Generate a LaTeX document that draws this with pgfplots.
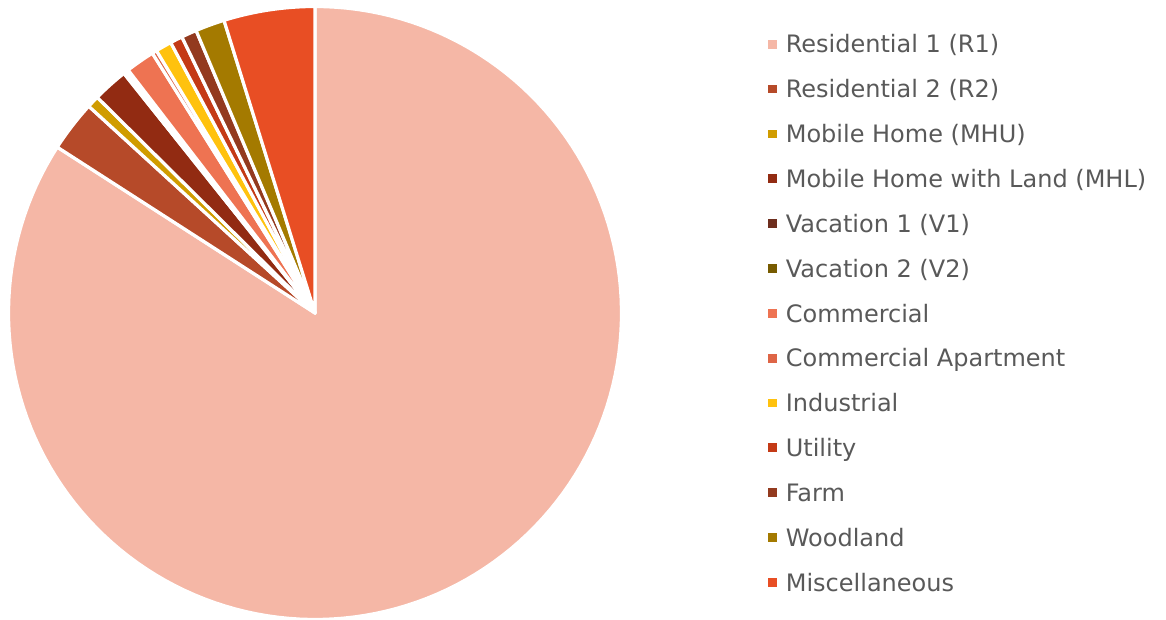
\documentclass[border=0pt]{standalone}
\usepackage{pgfplots}
\pgfplotsset{compat=1.18}
\usepackage{fontspec}
\setmainfont{DejaVu Sans}
\definecolor{txt}{HTML}{595959}
\definecolor{cRa}{HTML}{F5B7A6}
\definecolor{cRb}{HTML}{B64A29}
\definecolor{cMHU}{HTML}{D09C00}
\definecolor{cMHL}{HTML}{922B12}
\definecolor{cVa}{HTML}{6E2E1E}
\definecolor{cVb}{HTML}{775B00}
\definecolor{cCom}{HTML}{EE7352}
\definecolor{cComA}{HTML}{DE6546}
\definecolor{cInd}{HTML}{FFC20E}
\definecolor{cUti}{HTML}{C43A16}
\definecolor{cFarm}{HTML}{933A1F}
\definecolor{cWood}{HTML}{A47A00}
\definecolor{cMisc}{HTML}{E84E24}
\newcommand\piestart{90}
\newcommand\pietotal{99.88}
\newcommand\pieslice[3]{%
  \pgfmathsetmacro\pieend{\piestart-#1/\pietotal*360}%
  \edef\pietemp{\noexpand\addplot[fill=#2, draw=white, line width=1.6pt, line join=round, domain=\pieend:\piestart, samples=150, variable=\noexpand\t] ({cos(\noexpand\t)},{sin(\noexpand\t)}) -- (0,0) -- cycle;}%
  \pietemp
  \addlegendentry{#3}%
  \global\let\piestart\pieend
}
\begin{document}
\begin{tikzpicture}
\useasboundingbox (0,0) rectangle (583pt,310pt);
\begin{axis}[
  at={(157.5pt,153.5pt)}, anchor=center,
  width=306.5pt, height=306.5pt, scale only axis,
  xmin=-1, xmax=1, ymin=-1, ymax=1,
  hide axis, clip=false,
  legend cell align=left,
  legend image code/.code={\path[#1, draw=none] (0pt,-2.2pt) rectangle (4.4pt,2.2pt);},
  legend style={draw=none, fill=none, inner sep=0pt, outer sep=0pt,
    at={(axis description cs:1.2390,0.9527)}, anchor=north west,
    font=\fontsize{12}{14}\selectfont, text=txt,
    row sep=13.67pt, column sep=4.5pt,
    nodes={inner sep=0pt, text height=8.75pt, text depth=0pt}},
]
\pieslice{84.00}{cRa}{Residential 1 (R1)}
\pieslice{2.68}{cRb}{Residential 2 (R2)}
\pieslice{0.64}{cMHU}{Mobile Home (MHU)}
\pieslice{1.86}{cMHL}{Mobile Home with Land (MHL)}
\pieslice{0.14}{cVa}{Vacation 1 (V1)}
\pieslice{0.14}{cVb}{Vacation 2 (V2)}
\pieslice{1.53}{cCom}{Commercial}
\pieslice{0.25}{cComA}{Commercial Apartment}
\pieslice{0.85}{cInd}{Industrial}
\pieslice{0.65}{cUti}{Utility}
\pieslice{0.81}{cFarm}{Farm}
\pieslice{1.54}{cWood}{Woodland}
\pieslice{4.79}{cMisc}{Miscellaneous}
\end{axis}
\end{tikzpicture}
\end{document}
